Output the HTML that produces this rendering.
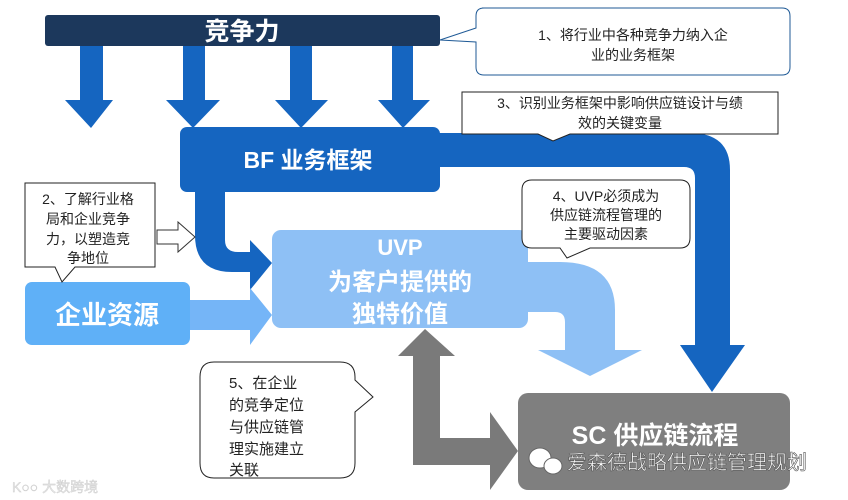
<!DOCTYPE html>
<html><head><meta charset="utf-8"><style>
body{margin:0;background:#fff;}
svg{display:block;font-family:"Liberation Sans","Noto Sans CJK SC",sans-serif;}
</style></head><body>
<svg width="848" height="500" viewBox="0 0 848 500" xmlns="http://www.w3.org/2000/svg">
<rect x="45" y="15" width="395" height="31" rx="3" fill="#1c385c"/>
<text x="242" y="40" font-size="25" font-weight="bold" fill="#fff" text-anchor="middle">竞争力</text>
<g fill="#1565c0">
<polygon points="80,46 103,46 103,100 113,100 91,128 65,100 80,100"/>
<polygon points="183,46 205,46 205,100 220,100 193,128 166,100 183,100"/>
<polygon points="290,46 312,46 312,100 328,100 301,128 275,100 290,100"/>
<polygon points="392,46 413,46 413,100 430,100 403,128 378,100 392,100"/>
</g>
<path d="M430,133 H690 Q730,133 730,170 V345 H745 L712,392 L680,345 H695 V178 Q695,167 684,167 H430 Z" fill="#1565c0"/>
<path d="M195,185 V235 Q195,272 232,272 H250 V290 L272,263 L250,240 V252 H238 Q225,252 225,240 V185 Z" fill="#1565c0"/>
<rect x="180" y="127" width="260" height="65" rx="7" fill="#1565c0"/>
<text x="308" y="168" font-size="23" font-weight="bold" fill="#fff" text-anchor="middle">BF 业务框架</text>
<path d="M520,262 H560 Q615,262 615,310 V350 H642 L590,376 L538,350 H565 V322 Q565,312 555,312 H520 Z" fill="#8ec0f5"/>
<polygon points="185,300 250,300 250,288 272,315 250,345 250,330 185,330" fill="#75b5f7"/>
<rect x="272" y="230" width="256" height="98" rx="9" fill="#8ec0f5"/>
<text x="400" y="255" font-size="22" font-weight="bold" fill="#fff" text-anchor="middle">UVP</text>
<text x="400" y="290" font-size="24" font-weight="bold" fill="#fff" text-anchor="middle">为客户提供的</text>
<text x="400" y="322" font-size="24" font-weight="bold" fill="#fff" text-anchor="middle">独特价值</text>
<rect x="25" y="282" width="165" height="63" rx="7" fill="#5fb0f7"/>
<text x="107" y="324" font-size="26" font-weight="bold" fill="#fff" text-anchor="middle">企业资源</text>
<path d="M425,329 L455,356 H440 V438 H490 V412 L518,451 L490,490 V465 H413 V356 H398 Z" fill="#7a7a7a"/>
<rect x="518" y="393" width="272" height="97" rx="10" fill="#7f7f7f"/>
<text x="655" y="444" font-size="25" font-weight="bold" fill="#fff" text-anchor="middle">SC 供应链流程</text>
<g fill="#fff" stroke="#666" stroke-width="1">
<ellipse cx="540" cy="458" rx="11" ry="10"/>
<ellipse cx="553" cy="466" rx="9" ry="8"/>
</g>
<text x="567" y="469" font-size="20" fill="#fff" stroke="#555" stroke-width="0.6">爱森德战略供应链管理规划</text>
<text x="12" y="492" font-size="14" fill="#e6e6e6" stroke="#ccc" stroke-width="0.4">K○○ 大数跨境</text>
<path d="M482,8 H782 Q790,8 790,16 V67 Q790,75 782,75 H484 Q476,75 476,67 V42 L440,40 L476,28 V16 Q476,8 484,8 Z" fill="#fff" stroke="#1f5a96" stroke-width="1"/>
<text x="633" y="40" font-size="14" fill="#222" text-anchor="middle">1、将行业中各种竞争力纳入企</text>
<text x="633" y="60" font-size="14" fill="#222" text-anchor="middle">业的业务框架</text>
<path d="M462,92 H778 V134 H570 L553,141 L538,134 H462 Z" fill="#fff" stroke="#222" stroke-width="1"/>
<text x="620" y="108" font-size="14" fill="#222" text-anchor="middle">3、识别业务框架中影响供应链设计与绩</text>
<text x="620" y="128" font-size="14" fill="#222" text-anchor="middle">效的关键变量</text>
<path d="M532,180 H680 Q690,180 690,190 V238 Q690,248 680,248 H590 L567,258 L560,248 H532 Q522,248 522,238 V190 Q522,180 532,180 Z" fill="#fff" stroke="#222" stroke-width="1"/>
<text x="606" y="201" font-size="14" fill="#222" text-anchor="middle">4、UVP必须成为</text>
<text x="606" y="220" font-size="14" fill="#222" text-anchor="middle">供应链流程管理的</text>
<text x="606" y="239" font-size="14" fill="#222" text-anchor="middle">主要驱动因素</text>
<path d="M25,183 H155 V267 H75 L62,282 L55,267 H25 Z" fill="#fff" stroke="#222" stroke-width="1"/>
<text x="88" y="204" font-size="14" fill="#222" text-anchor="middle">2、了解行业格</text>
<text x="88" y="224" font-size="14" fill="#222" text-anchor="middle">局和企业竞争</text>
<text x="88" y="244" font-size="14" fill="#222" text-anchor="middle">力，以塑造竞</text>
<text x="88" y="263" font-size="14" fill="#222" text-anchor="middle">争地位</text>
<polygon points="157,230 178,230 178,222 195,237 178,252 178,244 157,244" fill="#fff" stroke="#333" stroke-width="1"/>
<path d="M214,362 H340 Q355,362 355,377 V380 L373,397 L355,412 V463 Q355,478 340,478 H214 Q200,478 200,463 V377 Q200,362 214,362 Z" fill="#fff" stroke="#222" stroke-width="1"/>
<g font-size="15" fill="#222">
<text x="229" y="388">5、在企业</text>
<text x="229" y="410">的竞争定位</text>
<text x="229" y="432">与供应链管</text>
<text x="229" y="454">理实施建立</text>
<text x="229" y="475">关联</text>
</g>
</svg>
</body></html>
